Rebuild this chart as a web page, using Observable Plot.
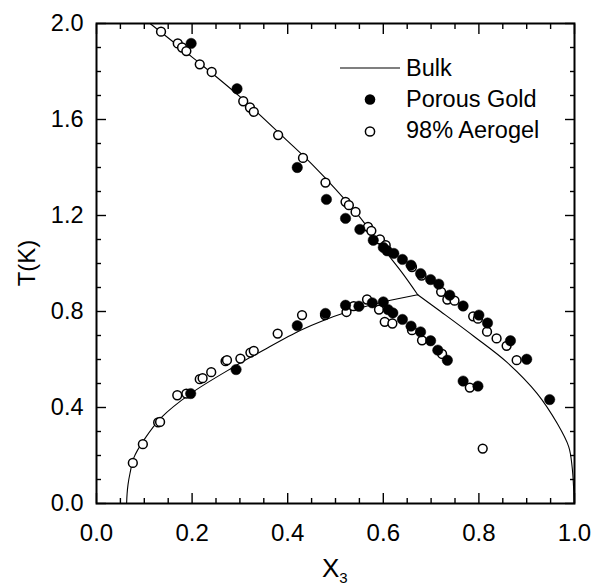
<!DOCTYPE html>
<html>
<head>
<meta charset="utf-8">
<script src="https://cdn.jsdelivr.net/npm/d3@7"></script>
<script src="https://cdn.jsdelivr.net/npm/@observablehq/plot@0.6"></script>
<style>
  html, body { margin: 0; padding: 0; background: white; }
  #chart svg { display: block; }
</style>
</head>
<body>
<div id="chart"></div>
<script>
// ---- Data ----
// Porous Gold (filled circles)
const goldX = [0.198,0.294,0.420,0.481,0.521,0.551,0.579,0.600,0.608,0.622,0.640,0.658,0.678,0.699,0.716,0.739,0.767,0.800,0.818,0.866,0.900,0.948,
               0.197,0.292,0.420,0.479,0.521,0.549,0.577,0.600,0.610,0.620,0.640,0.658,0.678,0.699,0.714,0.734,0.767,0.798];
const goldT = [1.917,1.728,1.400,1.267,1.188,1.142,1.097,1.067,1.053,1.042,1.017,0.993,0.958,0.933,0.914,0.868,0.823,0.785,0.752,0.678,0.601,0.433,
               0.458,0.558,0.741,0.792,0.826,0.822,0.836,0.840,0.808,0.794,0.767,0.739,0.715,0.678,0.639,0.597,0.510,0.489];
// 98% Aerogel (open circles)
const aeroX = [0.135,0.170,0.179,0.188,0.216,0.241,0.307,0.321,0.329,0.380,0.432,0.479,0.521,0.528,0.542,0.568,0.575,0.593,0.605,0.660,0.680,0.721,0.734,0.749,0.788,0.798,0.817,0.837,0.858,0.879,
               0.076,0.097,0.129,0.133,0.169,0.188,0.216,0.222,0.240,0.270,0.273,0.301,0.322,0.329,0.379,0.430,0.478,0.523,0.538,0.566,0.591,0.603,0.619,0.660,0.681,0.723,0.781,0.808];
const aeroT = [1.966,1.917,1.900,1.885,1.830,1.798,1.676,1.650,1.632,1.535,1.440,1.337,1.257,1.243,1.215,1.153,1.136,1.100,1.076,0.985,0.950,0.882,0.850,0.845,0.780,0.770,0.716,0.688,0.657,0.597,
               0.169,0.247,0.338,0.340,0.451,0.458,0.518,0.522,0.547,0.593,0.597,0.604,0.629,0.636,0.708,0.785,0.785,0.798,0.822,0.850,0.808,0.757,0.750,0.722,0.680,0.623,0.483,0.229];
// Bulk: lambda line, and the two branches of the phase-separation curve
const lambdaX = [0.112,0.200,0.300,0.400,0.450,0.500,0.550,0.600,0.640,0.672];
const lambdaT = [2.000,1.860,1.695,1.510,1.415,1.310,1.195,1.062,0.960,0.870];
const leftX   = [0.063,0.064,0.066,0.070,0.078,0.099,0.137,0.197,0.287,0.350,0.427,0.476,0.524,0.570,0.615,0.672];
const leftT   = [0.000,0.040,0.080,0.125,0.190,0.264,0.361,0.458,0.569,0.640,0.722,0.764,0.798,0.825,0.847,0.870];
const rightX  = [0.672,0.720,0.790,0.859,0.922,0.964,0.988,0.995,0.998,0.999];
const rightT  = [0.870,0.800,0.696,0.588,0.458,0.333,0.236,0.153,0.070,0.000];
// Ticks
const xMajor = [0, 0.2, 0.4, 0.6, 0.8, 1.0];
const xMinor = [0.05,0.1,0.15,0.25,0.3,0.35,0.45,0.5,0.55,0.65,0.7,0.75,0.85,0.9,0.95];
const yMajor = [0, 0.4, 0.8, 1.2, 1.6, 2.0];
const yMinor = [0.1,0.2,0.3,0.5,0.6,0.7,0.9,1.0,1.1,1.3,1.4,1.5,1.7,1.8,1.9];
const legendLabels = ["Bulk", "Porous Gold", "98% Aerogel"];

// ---- Tables built from the arrays ----
const gold = goldX.map((x, i) => ({x, t: goldT[i]}));
const aero = aeroX.map((x, i) => ({x, t: aeroT[i]}));
const bulk = [
  ...lambdaX.map((x, i) => ({x, t: lambdaT[i], seg: "lambda"})),
  ...leftX.map((x, i) => ({x, t: leftT[i], seg: "left"})),
  ...rightX.map((x, i) => ({x, t: rightT[i], seg: "right"}))
];

const font = "'Liberation Sans', Arial, Helvetica, sans-serif";
const tickAxis = (fn, anchor, ticks, size) => fn({anchor, ticks, tickSize: size, fill: "none", label: null, strokeWidth: 1.4});

const plot = Plot.plot({
  width: 593,
  height: 586,
  marginLeft: 96,
  marginRight: 19,
  marginTop: 23,
  marginBottom: 83,
  style: {fontFamily: font, background: "white", color: "black", overflow: "visible"},
  x: {domain: [0, 1]},
  y: {domain: [0, 2]},
  marks: [
    Plot.line(bulk, {x: "x", y: "t", z: "seg", stroke: "black", strokeWidth: 1.1, curve: "catmull-rom"}),
    Plot.dot(aero, {x: "x", y: "t", r: 4.4, fill: "white", stroke: "black", strokeWidth: 1.5}),
    Plot.dot(gold, {x: "x", y: "t", r: 5.2, fill: "black", stroke: "black", strokeWidth: 0.5}),
    tickAxis(Plot.axisX, "bottom", xMajor, -10),
    tickAxis(Plot.axisX, "bottom", xMinor, -5),
    tickAxis(Plot.axisX, "top", xMajor, -10),
    tickAxis(Plot.axisX, "top", xMinor, -5),
    tickAxis(Plot.axisY, "left", yMajor, -10),
    tickAxis(Plot.axisY, "left", yMinor, -5),
    tickAxis(Plot.axisY, "right", yMajor, -10),
    tickAxis(Plot.axisY, "right", yMinor, -5),
    Plot.axisX({anchor: "bottom", ticks: xMajor, tickSize: 0, tickPadding: 20, tickFormat: d3.format(".1f"), label: null, fontSize: 24}),
    Plot.axisY({anchor: "left", ticks: yMajor, tickSize: 0, tickPadding: 13, tickFormat: d3.format(".1f"), label: null, fontSize: 23.5}),
    Plot.frame({stroke: "black", strokeWidth: 2})
  ]
});

document.getElementById("chart").appendChild(plot);

// ---- Axis titles and legend (real text) ----
const svg = d3.select(plot);

const xl = svg.append("text")
  .attr("x", 322).attr("y", 577)
  .attr("text-anchor", "start")
  .attr("font-family", font).attr("font-size", 26).attr("fill", "black");
xl.append("tspan").text("X");
xl.append("tspan").attr("dy", 6).attr("font-size", 15).text("3");

svg.append("text")
  .attr("transform", "translate(35,263) rotate(-90)")
  .attr("text-anchor", "middle")
  .attr("font-family", font).attr("font-size", 24).attr("fill", "black")
  .text("T(K)");

const lg = svg.append("g").attr("font-family", font).attr("font-size", 23.5)
  .attr("fill", "black").attr("text-anchor", "start");
lg.append("line").attr("x1", 340).attr("x2", 400).attr("y1", 68).attr("y2", 68)
  .attr("stroke", "black").attr("stroke-width", 1.1);
lg.append("circle").attr("cx", 370).attr("cy", 99.5).attr("r", 5.3).attr("fill", "black");
lg.append("circle").attr("cx", 370).attr("cy", 131.5).attr("r", 4.6).attr("fill", "white")
  .attr("stroke", "black").attr("stroke-width", 1.5);
[76, 107, 138].forEach((y, i) => {
  lg.append("text").attr("x", 406).attr("y", y).attr("text-anchor", "start").text(legendLabels[i]);
});
</script>
</body>
</html>
